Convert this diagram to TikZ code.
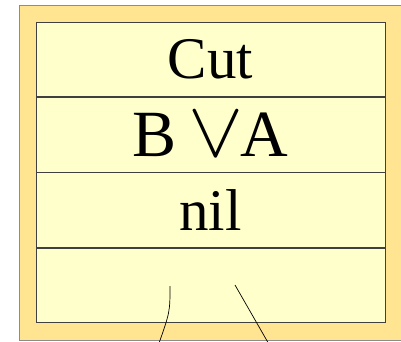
\documentclass[tikz,border=0pt]{standalone}
\usepackage{fontspec}
\usepackage{graphicx}
\setmainfont{Liberation Serif}
\usetikzlibrary{positioning}
\definecolor{frameorange}{RGB}{255,228,145}
\definecolor{cellyellow}{RGB}{255,255,204}
\newcommand{\bigor}{\hspace{12pt}\resizebox{55pt}{44pt}{$\vee$}\hspace{-3pt}}
\tikzset{
    cell/.style={draw=black!75, fill=cellyellow, line width=0.8pt,
        minimum width=349pt, minimum height=74.5pt, inner sep=0pt,
        font=\fontsize{59}{62}\selectfont},
    branch/.style={black, line width=0.7pt}
}
\begin{document}
\begin{tikzpicture}[x=1pt,y=-1pt]
    \clip (0,0) rectangle (401,341);
    % Outer frame
    \draw[black!45, fill=frameorange, line width=1pt] (19.5,5) rectangle (420,340);

    % Stacked cells
    \node[cell] (cut) at (210.5,59.5) {Cut};
    \node[cell, below=0pt of cut, font=\fontsize{66}{70}\selectfont] (formula) {B\bigor A};
    \node[cell, below=0pt of formula] (nil) {nil};
    \node[cell, below=0pt of nil] (kids) {};

    % Branches going down
    \coordinate (leftTop) at (170,286);
    \coordinate (leftEnd) at (158,346);
    \coordinate (rightTop) at (235,285);
    \coordinate (rightEnd) at (270,346);
    \draw[branch] (leftTop) .. controls (170,312) .. (leftEnd);
    \draw[branch] (rightTop) -- (rightEnd);
\end{tikzpicture}
\end{document}
